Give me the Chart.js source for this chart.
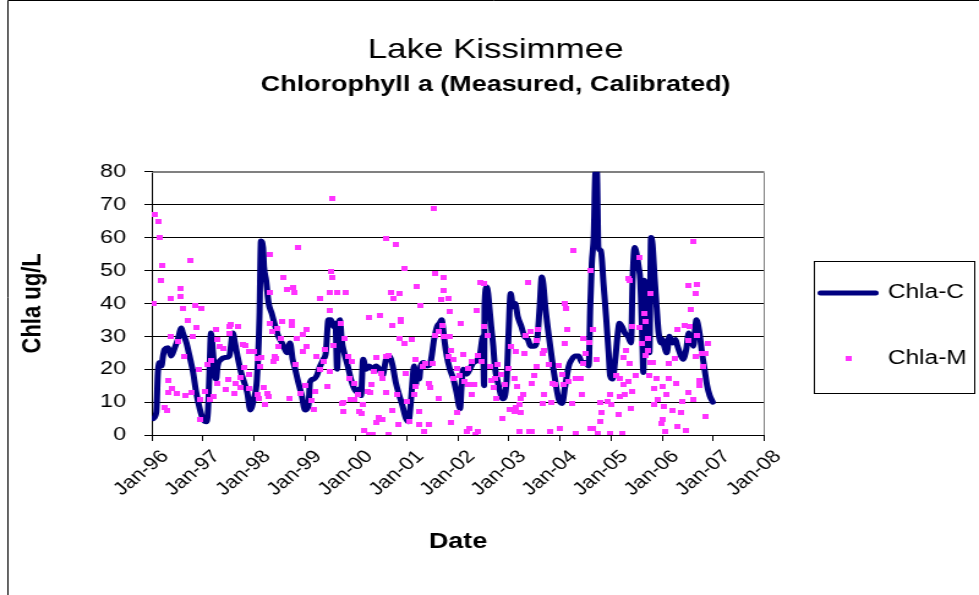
<!DOCTYPE html>
<html>
<head>
<meta charset="utf-8">
<title>Lake Kissimmee</title>
<script src="https://cdn.jsdelivr.net/npm/chart.js@4.4.0/dist/chart.umd.min.js"></script>
<style>
  html, body { margin: 0; padding: 0; background: #fff; }
  #chart { display: block; }
</style>
</head>
<body>
<!-- drawn 800px wide, shown 979px wide -->
<canvas id="chart" width="800" height="595" style="width: 979px; height: 595px;"></canvas>
<script>
// x axis tick labels, one per January
const firstYear = 1996;
const xTickLabels = ['Jan-96', 'Jan-97', 'Jan-98', 'Jan-99', 'Jan-00', 'Jan-01', 'Jan-02',
    'Jan-03', 'Jan-04', 'Jan-05', 'Jan-06', 'Jan-07', 'Jan-08'];
const yMin = 0, yMax = 80, yStep = 10;

// Chla-C (calibrated model), decimal years
const calcYears = [
    1996.03, 1996.09, 1996.12, 1996.16, 1996.19, 1996.22, 1996.25, 1996.32, 1996.38, 1996.45, 1996.51, 1996.58, 1996.61, 1996.68, 1996.74, 1996.81, 1996.87, 1996.94,
    1997.00, 1997.07, 1997.10, 1997.13, 1997.16, 1997.20, 1997.23, 1997.26, 1997.29, 1997.36, 1997.42, 1997.52, 1997.59, 1997.63, 1997.68, 1997.75, 1997.81, 1997.87, 1997.93,
    1998.00, 1998.06, 1998.11, 1998.14, 1998.18, 1998.20, 1998.24, 1998.29, 1998.35, 1998.42, 1998.48, 1998.55, 1998.61, 1998.65, 1998.71, 1998.76, 1998.81, 1998.87, 1998.94,
    1999.00, 1999.07, 1999.10, 1999.17, 1999.23, 1999.30, 1999.36, 1999.41, 1999.46, 1999.51, 1999.56, 1999.60, 1999.63, 1999.66, 1999.69, 1999.72, 1999.77, 1999.84, 1999.90, 1999.97,
    2000.03, 2000.06, 2000.10, 2000.14, 2000.20, 2000.26, 2000.33, 2000.39, 2000.46, 2000.52, 2000.59, 2000.65, 2000.72, 2000.78, 2000.85, 2000.91, 2000.98,
    2001.03, 2001.07, 2001.11, 2001.14, 2001.17, 2001.20, 2001.24, 2001.27, 2001.33, 2001.40, 2001.46, 2001.53, 2001.59, 2001.64, 2001.68, 2001.71, 2001.74, 2001.78, 2001.84, 2001.91, 2001.97,
    2002.04, 2002.07, 2002.10, 2002.17, 2002.23, 2002.30, 2002.36, 2002.43, 2002.49, 2002.51, 2002.52, 2002.56, 2002.59, 2002.62, 2002.65, 2002.69, 2002.72, 2002.78, 2002.88, 2002.95, 2002.99,
    2003.03, 2003.08, 2003.12, 2003.17, 2003.24, 2003.30, 2003.37, 2003.42, 2003.49, 2003.55, 2003.60, 2003.64, 2003.67, 2003.71, 2003.78, 2003.84, 2003.91, 2003.97,
    2004.04, 2004.10, 2004.17, 2004.23, 2004.30, 2004.36, 2004.43, 2004.49, 2004.56, 2004.59, 2004.62, 2004.66, 2004.69, 2004.72, 2004.75, 2004.80, 2004.85, 2004.90, 2004.95, 2004.98,
    2005.03, 2005.08, 2005.13, 2005.16, 2005.21, 2005.27, 2005.33, 2005.39, 2005.42, 2005.46, 2005.50, 2005.54, 2005.57, 2005.61, 2005.63, 2005.65, 2005.69, 2005.72, 2005.75, 2005.78, 2005.81, 2005.85, 2005.89, 2005.93, 2005.98,
    2006.01, 2006.04, 2006.09, 2006.14, 2006.20, 2006.26, 2006.30, 2006.37, 2006.41, 2006.47, 2006.52, 2006.56, 2006.61, 2006.65, 2006.67, 2006.73, 2006.78, 2006.83, 2006.88, 2006.93, 2006.99
];
const calcValues = [
    5, 7, 19, 22, 21, 24, 26, 26.5, 24, 26.5, 29, 32.5, 31, 28, 24, 19, 13, 8,
    5, 4, 7, 19, 31, 25, 19, 17, 21, 23, 23.5, 24, 31, 28, 24, 19, 16, 13, 7.6,
    11, 17, 36, 59, 57, 51, 47, 40, 37, 33, 30, 28, 26, 25, 28, 23, 20, 16, 12,
    7.6, 9, 16, 17, 18, 21, 23, 25, 35, 35, 33, 34, 20, 33, 35, 29, 25, 21, 17, 14,
    13, 14, 12, 23, 20, 21, 20, 21, 20, 18, 23, 24, 21, 16, 12, 9, 5,
    4, 9, 17, 21, 15, 19, 17, 21, 22, 21, 22, 29, 33, 34, 35, 32, 28, 24, 20, 17, 13,
    8, 15, 20, 18.5, 20, 22, 22.5, 24.5, 30, 15, 39, 45, 43, 38, 33, 27, 21, 16, 11, 16, 31,
    43, 39, 40, 36, 33, 30, 29, 27, 27, 29, 39, 48, 46, 39, 30, 23, 16, 11,
    9.6, 15, 21, 23, 24, 24, 22, 22, 21, 39, 52, 61, 79.5, 80, 57, 56, 46, 36, 25, 18,
    17, 23, 31, 34, 33, 31, 30, 28, 47, 57, 55, 51, 47, 29, 19, 47, 43, 37, 25, 60, 58, 48, 39, 31, 28,
    29, 27, 25, 30, 28, 29, 27, 24, 23, 26, 31, 29, 27, 33, 35, 31, 25, 20, 15, 12, 10
];

// Chla-M (measured samples), decimal years
const measYears = [
    1996.03, 1996.06, 1996.14, 1996.16, 1996.21, 1996.19, 1996.36, 1996.56, 1996.56, 1996.60,
    1996.76, 1996.84, 1996.98, 1996.71, 1996.87, 1996.38, 1996.51, 1996.81, 1996.64, 1996.33,
    1996.32, 1996.40, 1996.48, 1996.25, 1996.29, 1996.66, 1996.77, 1996.92, 1996.94, 1996.94,
    1997.05, 1997.13, 1997.20, 1997.09, 1997.25, 1997.29, 1997.34, 1997.41, 1997.52, 1997.55,
    1997.70, 1997.78, 1997.52, 1997.49, 1997.44, 1997.63, 1997.65, 1997.74, 1997.74, 1997.28,
    1997.16, 1997.83, 1997.80, 1997.91, 1997.91, 1998.00, 1998.07, 1998.14, 1998.13, 1997.90,
    1998.07, 1998.09, 1998.19, 1998.22, 1998.26, 1998.29, 1998.32, 1998.32, 1998.32, 1998.35,
    1998.45, 1998.55, 1998.74, 1998.74, 1998.43, 1998.42, 1998.39, 1998.48, 1998.52, 1998.58,
    1998.65, 1998.78, 1998.80, 1998.86, 1998.84, 1998.97, 1999.04, 1999.04, 1998.97, 1998.81,
    1998.70, 1998.91, 1999.00, 1999.13, 1999.17, 1999.20, 1999.23, 1999.30, 1999.40, 1999.43,
    1999.48, 1999.49, 1999.51, 1999.54, 1999.49, 1999.64, 1999.54, 1999.56, 1999.30, 1999.36,
    1999.73, 1999.79, 1999.71, 1999.77, 1999.84, 1999.93, 1999.87, 1999.97, 1999.90, 1999.75,
    1999.74, 1999.97, 2000.03, 2000.06, 2000.10, 2000.13, 2000.16, 2000.26, 2000.33, 2000.23,
    2000.31, 2000.29, 2000.25, 2000.46, 2000.39, 2000.36, 2000.49, 2000.52, 2000.60, 2000.59,
    2000.68, 2000.74, 2000.85, 2000.59, 2000.79, 2000.94, 2000.87, 2000.89, 2000.85, 2000.94,
    2000.70, 2000.65, 2000.44, 2000.52, 2000.40, 2000.64, 2000.72, 2000.83, 2000.81, 2000.98,
    2001.01, 2001.05, 2001.09, 2001.19, 2001.27, 2001.24, 2001.33, 2001.42, 2001.16, 2001.17,
    2001.30, 2001.37, 2001.42, 2001.46, 2001.50, 2001.53, 2001.55, 2001.56, 2001.14, 2001.25,
    2001.71, 2001.71, 2001.66, 2001.81, 2001.84, 2001.69, 2001.61, 2001.71, 2001.84, 2001.81,
    2001.87, 2001.91, 2002.10, 2002.06, 2002.36, 2002.43, 2002.51, 2002.52, 2002.39, 2002.46,
    2002.26, 2002.20, 2002.13, 2002.20, 2002.32, 2002.26, 2001.97, 2001.91, 2002.04, 2001.63,
    2001.97, 2001.87, 2002.17, 2002.23, 2002.33, 2002.38, 2002.59, 2002.62, 2002.65, 2002.69,
    2002.72, 2002.75, 2002.78, 2002.85, 2002.91, 2002.98, 2003.04, 2003.11, 2003.14, 2003.16,
    2003.01, 2003.11, 2003.14, 2003.24, 2003.21, 2003.24, 2003.27, 2002.88, 2003.30, 2003.32,
    2003.36, 2003.21, 2003.40, 2003.42, 2003.56, 2003.55, 2003.68, 2003.65, 2003.78, 2003.55,
    2003.49, 2003.45, 2003.68, 2003.84, 2003.91, 2003.82, 2003.67, 2003.97, 2004.04, 2004.06,
    2004.17, 2004.23, 2004.30, 2004.40, 2004.43, 2004.12, 2004.09, 2004.14, 2004.10, 2004.27,
    2004.46, 2004.49, 2004.46, 2004.56, 2004.64, 2004.60, 2004.71, 2004.79, 2004.82, 2004.79,
    2004.75, 2004.92, 2004.98, 2005.01, 2005.14, 2005.16, 2005.10, 2005.18, 2005.24, 2005.27,
    2005.23, 2004.59, 2004.64, 2004.98, 2005.21, 2003.81, 2003.99, 2004.30, 2003.45, 2005.34,
    2005.29, 2005.33, 2005.36, 2005.36, 2005.42, 2005.55, 2005.59, 2005.55, 2005.65, 2005.68,
    2005.72, 2005.72, 2005.78, 2005.78, 2005.81, 2005.75, 2005.88, 2005.85, 2005.91, 2005.85,
    2006.01, 2006.14, 2006.07, 2006.04, 2005.98, 2006.01, 2006.06, 2006.20, 2006.30, 2006.37,
    2006.39, 2006.27, 2006.14, 2006.24, 2006.30, 2006.43, 2006.53, 2006.52, 2006.69, 2006.66,
    2006.78, 2006.84, 2006.89, 2006.79, 2006.73, 2006.73, 2006.60, 2006.52, 2006.47, 2006.86,
    2006.60, 2006.52, 2006.69, 2006.65, 2006.57, 2005.49, 2005.42, 2005.39, 2005.68
];
const measValues = [
    40, 67, 65, 60, 51.5, 47, 41.6, 44.5, 42, 38.6,
    53, 39.4, 38.6, 34.8, 32.6, 30, 28.3, 30, 23.8, 16.7,
    12.9, 14.2, 12.7, 8.4, 7.5, 12, 12.9, 19.8, 10.7, 4.8,
    13.2, 10.7, 11.7, 21.5, 32, 29, 26.8, 26.3, 33, 33.6,
    33, 27.5, 31, 16.9, 13.9, 12.6, 15.7, 17.5, 14.4, 15.7,
    22.5, 27.3, 20.6, 18.4, 25.5, 25.5, 23.3, 23.5, 20.8, 14,
    12.2, 11.2, 14.4, 9.2, 12.7, 11.7, 55, 43.4, 34, 31.4,
    32.4, 34.4, 34.6, 33.4, 23.3, 23.8, 22.3, 26.8, 29.3, 48,
    44.3, 44.8, 43.2, 56.9, 29.3, 30.5, 32, 26.8, 25.3, 21.5,
    11.2, 12.7, 14.9, 10.5, 7.9, 13.2, 23.8, 19.8, 26, 14.7,
    37.9, 19.3, 49.7, 48, 43.4, 43.4, 72, 27.3, 41.4, 22.3,
    9.7, 43.4, 33.9, 29.3, 23.8, 22.3, 17.2, 15.7, 10.7, 10,
    7.2, 10.7, 12.2, 7.2, 6.4, 9.2, 1.4, 0.3, 0.3, 13.2,
    15.2, 12.9, 35.7, 36.2, 23.5, 19.3, 18.8, 17.2, 12.9, 23.8,
    43.4, 41.6, 42.9, 59.6, 58, 50.7, 35.2, 34.4, 29.3, 27.8,
    33.4, 24.3, 5.3, 4.6, 3.8, 0.3, 7.4, 3.1, 12.4, 18.8,
    10.2, 4.1, 29, 45.2, 39.4, 3.1, 1.1, 3.1, 22.8, 14.7,
    20.8, 21.8, 15.7, 14.4, 21.8, 68.9, 49, 30.3, 12.2, 7,
    48, 44, 41.2, 41.4, 37.4, 33.4, 31.4, 29.8, 29.8, 23.8,
    25.8, 22.8, 24.6, 33.9, 37.9, 46.5, 46, 32.9, 24.3, 22.3,
    22.3, 20.3, 16.4, 15.2, 15.2, 12.2, 20.3, 17.2, 18.2, 11.2,
    6.7, 3.8, 1.1, 2.1, 0.3, 1.1, 30.3, 20.8, 16.7, 14.4,
    17.2, 11.2, 21.3, 18.4, 15.2, 20.3, 26.8, 17.2, 25.3, 14.7,
    7.9, 7.2, 8.4, 6.7, 9.2, 11.2, 12.2, 5.1, 24.8, 30.3,
    46.5, 1.1, 1.1, 31.5, 32, 28.8, 25.8, 24.8, 21.5, 20.8,
    18.2, 15.7, 12.2, 15.7, 15.2, 10, 9.5, 21.1, 18.4, 15.2,
    16.2, 9.7, 17.2, 17.2, 12.2, 38.6, 39.9, 32, 27.8, 56,
    29.3, 24.8, 21.8, 28, 32, 50, 23, 10, 6.7, 4.1,
    0.6, 10.2, 12.2, 9.2, 6.1, 11.7, 18.2, 17.2, 15.2, 12.2,
    23.5, 2.1, 2.1, 0.6, 0.6, 1.1, 2.1, 0.6, 1.1, 47.5,
    25.8, 16.2, 21.8, 47, 32.9, 54, 27.8, 32.6, 36.9, 34.4,
    29.3, 25.8, 42.9, 22, 22, 18.2, 17.2, 14.2, 10.7, 9.2,
    14.7, 17.2, 12.2, 8.7, 3.6, 4.6, 1.1, 7.4, 2.6, 6.7,
    10.2, 15.7, 21.8, 23.3, 32.2, 33.4, 32.9, 28.8, 30.3, 23.8,
    24.8, 24.8, 27.8, 20.8, 16.7, 15, 10.9, 13, 1.3, 5.6,
    58.8, 45.3, 45.7, 42.9, 38.1, 18.2, 13.2, 8.2, 24.3
];

const navy = '#000080';
const magenta = '#ff33ff';
Chart.defaults.font.family = "'Liberation Sans', Arial, sans-serif";
Chart.defaults.color = '#000';

// small square marker for the measured series
const marker = document.createElement('canvas');
marker.width = 5;
marker.height = 5;
const mctx = marker.getContext('2d');
mctx.fillStyle = magenta;
mctx.fillRect(0, 0, 5, 5);

// gray plot border on top/right, boxed legend, chart frame
const framePlugin = {
    id: 'frame',
    beforeDatasetsDraw(chart) {
        const {ctx, chartArea: a} = chart;
        const top = Math.round(a.top) + 0.5;
        const right = Math.round(a.right) - 0.5;
        ctx.save();
        ctx.strokeStyle = '#808080';
        ctx.lineWidth = 1;
        ctx.beginPath();
        ctx.moveTo(a.left, top);
        ctx.lineTo(right, top);
        ctx.lineTo(right, a.bottom);
        ctx.stroke();
        ctx.restore();
    },
    afterDraw(chart) {
        const ctx = chart.ctx;
        const boxes = chart.legend.legendHitBoxes;
        const first = boxes[0];
        const last = boxes[boxes.length - 1];
        const left = Math.round(first.left - 6) + 0.5;
        const top = Math.round(first.top + first.height / 2 - 32) + 0.5;
        const bottom = Math.round(last.top + last.height / 2 + 34) + 0.5;
        const right = chart.width - 3.5;
        ctx.save();
        ctx.strokeStyle = '#000';
        ctx.lineWidth = 1;
        ctx.strokeRect(left, top, right - left, bottom - top);
        ctx.beginPath();
        ctx.moveTo(6.5, chart.height);
        ctx.lineTo(6.5, 0.5);
        ctx.lineTo(chart.width, 0.5);
        ctx.stroke();
        ctx.restore();
    }
};

const ctx = document.getElementById('chart').getContext('2d');
const chart = new Chart(ctx, {
    type: 'line',
    data: {
        datasets: [{
            label: 'Chla-C',
            data: calcYears.map((x, i) => ({x: x, y: calcValues[i]})),
            borderColor: navy,
            backgroundColor: navy,
            borderWidth: 5,
            pointRadius: 0,
            pointStyle: 'line',
            cubicInterpolationMode: 'monotone',
            borderJoinStyle: 'round',
            borderCapStyle: 'round',
            order: 1
        }, {
            type: 'scatter',
            label: 'Chla-M',
            data: measYears.map((x, i) => ({x: x, y: measValues[i]})),
            pointStyle: marker,
            pointRadius: 3,
            backgroundColor: magenta,
            borderColor: magenta,
            borderWidth: 0,
            showLine: false,
            order: 0
        }]
    },
    options: {
        responsive: false,
        animation: false,
        devicePixelRatio: 1,
        layout: {padding: {left: 10, right: 0, top: 0, bottom: 0}},
        plugins: {
            title: {
                display: true,
                text: 'Lake Kissimmee',
                color: '#000',
                font: {size: 28.5, weight: 'normal'},
                padding: {top: 33, bottom: 4.7}
            },
            subtitle: {
                display: true,
                text: 'Chlorophyll a (Measured, Calibrated)',
                color: '#000',
                font: {size: 22, weight: 'bold'},
                padding: {top: 0, bottom: 73.5}
            },
            legend: {
                position: 'right',
                fullSize: false,
                title: {display: true, text: ' ', font: {size: 20}, padding: {top: 0, bottom: 21}},
                labels: {
                    usePointStyle: true,
                    pointStyleWidth: 45,
                    padding: 46,
                    color: '#000',
                    font: {size: 20},
                    sort: (a, b) => a.datasetIndex - b.datasetIndex,
                    generateLabels(chart) {
                        const items = Chart.defaults.plugins.legend.labels.generateLabels(chart);
                        items.forEach(item => {
                            if (item.datasetIndex === 0) {
                                item.pointStyle = 'line';
                                item.strokeStyle = navy;
                                item.lineWidth = 5;
                                item.lineCap = 'round';
                            } else {
                                item.pointStyle = marker;
                            }
                        });
                        return items;
                    }
                }
            },
            tooltip: {enabled: false}
        },
        scales: {
            x: {
                type: 'linear',
                min: firstYear,
                max: firstYear + xTickLabels.length - 1,
                afterFit: (scale) => { scale.height = 160; },
                ticks: {
                    stepSize: 1,
                    autoSkip: false,
                    minRotation: 45,
                    maxRotation: 45,
                    padding: 5,
                    labelOffset: 11,
                    color: '#000',
                    font: {size: 18},
                    callback: (v) => xTickLabels[Math.round(v - firstYear)]
                },
                grid: {drawOnChartArea: false, drawTicks: true, tickLength: 6, tickColor: '#000', color: '#000'},
                border: {color: '#000', width: 1},
                title: {
                    display: true,
                    text: 'Date',
                    color: '#000',
                    font: {size: 22, weight: 'bold'},
                    padding: {top: 0, bottom: 40}
                }
            },
            y: {
                min: yMin,
                max: yMax,
                afterFit: (scale) => { scale.width = 114; },
                ticks: {stepSize: yStep, padding: 15, color: '#000', font: {size: 19}},
                grid: {
                    color: (c) => c.tick && c.tick.value === yMax ? '#808080' : '#000',
                    tickColor: '#000',
                    tickLength: 6,
                    lineWidth: 1
                },
                border: {color: '#000', width: 1},
                title: {
                    display: true,
                    text: 'Chla ug/L',
                    color: '#000',
                    font: {size: 22, weight: 'bold'},
                    padding: {top: 4, bottom: 0}
                }
            }
        }
    },
    plugins: [framePlugin]
});
</script>
</body>
</html>
